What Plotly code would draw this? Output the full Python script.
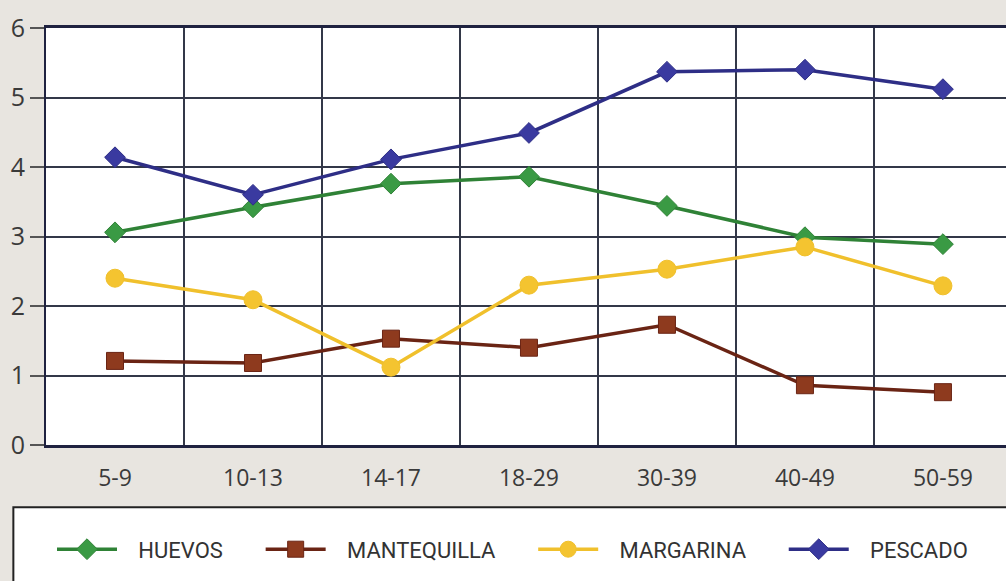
import plotly.graph_objects as go

CATEGORIES = ["5-9", "10-13", "14-17", "18-29", "30-39", "40-49", "50-59"]
HUEVOS = [3.06, 3.42, 3.76, 3.86, 3.44, 2.99, 2.89]
MANTEQUILLA = [1.21, 1.18, 1.53, 1.40, 1.73, 0.86, 0.76]
MARGARINA = [2.40, 2.09, 1.12, 2.30, 2.53, 2.85, 2.29]
PESCADO = [4.14, 3.60, 4.11, 4.49, 5.37, 5.40, 5.12]

PAPER = "#e8e5e0"
GRID = "#333848"
TEXT = "#3a3a3a"
# separación dentro y entre entradas de la leyenda
PRE = "\u00a0" * 3
POST = "\u00a0" * 6

SERIES = [
    ("HUEVOS", HUEVOS, "#2f8236", "#3a9a44", "diamond", 16),
    ("MANTEQUILLA", MANTEQUILLA, "#6a2414", "#8e3a1e", "square", 17),
    ("MARGARINA", MARGARINA, "#f0c02c", "#f4c430", "circle", 18),
    ("PESCADO", PESCADO, "#2e2e86", "#3a3aa0", "diamond", 16),
]

fig = go.Figure()
for name, vals, line_col, mk_col, symbol, size in SERIES:
    fig.add_trace(
        go.Scatter(
            x=CATEGORIES,
            y=vals,
            name=PRE + name + POST,
            mode="lines+markers",
            line=dict(color=line_col, width=3.5),
            marker=dict(symbol=symbol, size=size, color=mk_col, line=dict(width=1, color=line_col)),
        )
    )

# caja de la leyenda
fig.add_shape(
    type="rect", xref="paper", yref="paper",
    x0=-0.034, x1=1.02, y0=-0.36, y1=-0.149,
    line=dict(color="#222222", width=2), fillcolor="white", layer="below",
)

fig.update_layout(
    width=1006,
    height=581,
    margin=dict(l=46, r=0, t=28, b=136),
    paper_bgcolor=PAPER,
    plot_bgcolor="white",
    font=dict(family="Open Sans", color=TEXT),
    showlegend=True,
    legend=dict(
        orientation="h",
        x=0.0106, y=-0.2, xanchor="left", yanchor="top",
        bgcolor="rgba(0,0,0,0)",
        font=dict(family="Roboto", size=22, color="#333333"),
        itemwidth=60,
        traceorder="normal",
    ),
    xaxis=dict(
        type="category",
        range=[-0.5, 6.457],
        tickson="boundaries",
        showgrid=True,
        gridcolor=GRID,
        gridwidth=1.5,
        ticks="",
        ticklabelstandoff=10,
        tickfont=dict(size=23, color=TEXT),
        showline=True,
        linecolor="#1f2240",
        linewidth=3,
        mirror=True,
        zeroline=False,
        automargin=False,
    ),
    yaxis=dict(
        range=[0, 6],
        dtick=1,
        showgrid=True,
        gridcolor=GRID,
        gridwidth=1.5,
        ticks="outside",
        ticklen=14,
        tickcolor="#555555",
        tickwidth=1.5,
        tickfont=dict(size=25, color=TEXT),
        showline=True,
        linecolor="#1f2240",
        linewidth=2,
        zeroline=False,
        automargin=False,
    ),
)

fig.write_html(
    "out.html",
    config={"displayModeBar": False},
    post_script="document.body.style.margin='0';",
)
